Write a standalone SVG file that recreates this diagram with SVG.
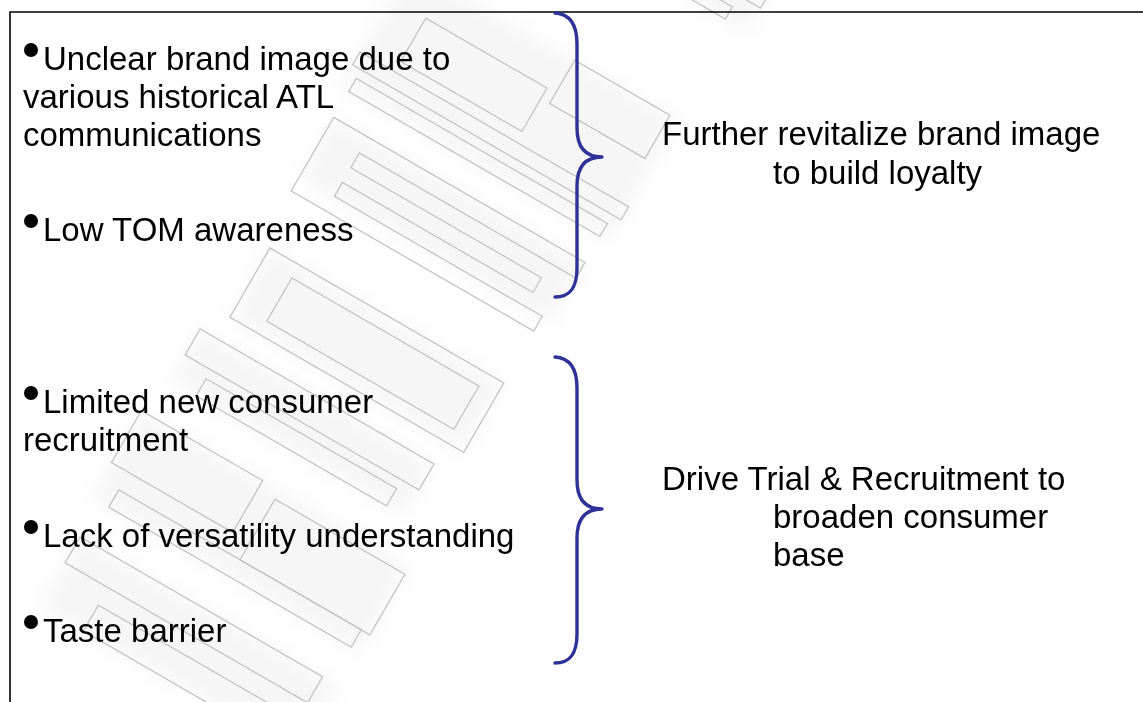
<svg xmlns="http://www.w3.org/2000/svg" width="1143" height="702" viewBox="0 0 1143 702">
  <defs>
    <style>
      .txt { font-family: "Liberation Sans", Arial, sans-serif; font-size: 33px; fill: #000; }
      .brace { fill: none; stroke: #2f3296; stroke-width: 3.4; stroke-linecap: round; stroke-linejoin: round; }
      .wm { fill: none; stroke: #c4c4c4; stroke-width: 1.3; }
      .wm-shade { fill: #000; opacity: 0.035; }
    </style>
    <filter id="soft" x="-20%" y="-20%" width="140%" height="140%">
      <feGaussianBlur stdDeviation="9"/>
    </filter>
  </defs>

  <rect width="1143" height="702" fill="#ffffff"/>

  <!-- faint diagonal watermark, drawn in a frame turned 30 degrees -->
  <g id="watermark" transform="translate(390,300) rotate(30)">
    <g filter="url(#soft)">
      <rect class="wm-shade" x="-60" y="-482" width="235" height="72"/>
      <rect class="wm-shade" x="-150" y="-300" width="310" height="140"/>
      <rect class="wm-shade" x="-140" y="-130" width="290" height="70"/>
      <rect class="wm-shade" x="-130" y="15" width="270" height="80"/>
      <rect class="wm-shade" x="-150" y="120" width="270" height="60"/>
      <rect class="wm-shade" x="-160" y="220" width="310" height="100"/>
      <rect class="wm-shade" x="-150" y="360" width="300" height="80"/>
    </g>
    <g class="wm">
      <rect x="-40" y="-480" width="210" height="14"/>
      <rect x="-60" y="-452" width="235" height="14"/>
      <rect x="-50" y="-425" width="200" height="14"/>
      <rect x="-110" y="-262" width="140" height="50"/>
      <rect x="40" y="-300" width="110" height="50"/>
      <rect x="-150" y="-200" width="310" height="15"/>
      <rect x="-140" y="-175" width="290" height="15"/>
      <path d="M-140,-130 H150 V-112 H-100 V-95 H120 V-78 H-100 V-62 H140 V-45 H-140 Z"/>
      <rect x="-130" y="15" width="270" height="80"/>
      <rect x="-96" y="30" width="216" height="50"/>
      <rect x="-150" y="120" width="270" height="30"/>
      <rect x="-120" y="160" width="220" height="20"/>
      <rect x="-160" y="220" width="140" height="60"/>
      <rect x="0" y="230" width="150" height="70"/>
      <rect x="-140" y="300" width="280" height="20"/>
      <rect x="-150" y="360" width="280" height="30"/>
      <rect x="-100" y="410" width="250" height="30"/>
    </g>
  </g>

  <!-- frame -->
  <path id="frame" d="M10,702 V12 H1143" fill="none" stroke="#000" stroke-width="1.6"/>

  <!-- issue list -->
  <g id="issues-image">
    <circle cx="31" cy="50" r="7"/>
    <text class="txt" x="43" y="70">Unclear brand image due to</text>
    <text class="txt" x="23" y="108">various historical ATL</text>
    <text class="txt" x="23" y="146">communications</text>
    <circle cx="31" cy="221" r="7"/>
    <text class="txt" x="43" y="241">Low TOM awareness</text>
  </g>

  <g id="issues-trial">
    <circle cx="31" cy="393" r="7"/>
    <text class="txt" x="43" y="413">Limited new consumer</text>
    <text class="txt" x="23" y="451">recruitment</text>
    <circle cx="31" cy="527" r="7"/>
    <text class="txt" x="43" y="547">Lack of versatility understanding</text>
    <circle cx="31" cy="622" r="7"/>
    <text class="txt" x="43" y="642">Taste barrier</text>
  </g>

  <!-- grouping braces -->
  <g id="connectors">
    <path class="brace" d="M555,13 C570,14 577,24 577,44 L577,128 C577,148 586,157 602,157 C586,157 577,166 577,186 L577,268 C577,288 570,297 555,297"/>
    <path class="brace" d="M555,357 C570,358 577,368 577,388 L577,480 C577,500 586,509 602,509 C586,509 577,518 577,538 L577,634 C577,654 570,663 555,663"/>
  </g>

  <!-- objectives -->
  <g id="goal-loyalty">
    <text class="txt" x="662" y="145">Further revitalize brand image</text>
    <text class="txt" x="773" y="184">to build loyalty</text>
  </g>

  <g id="goal-recruitment">
    <text class="txt" x="662" y="490">Drive Trial &amp; Recruitment to</text>
    <text class="txt" x="773" y="528">broaden consumer</text>
    <text class="txt" x="773" y="566">base</text>
  </g>
</svg>
